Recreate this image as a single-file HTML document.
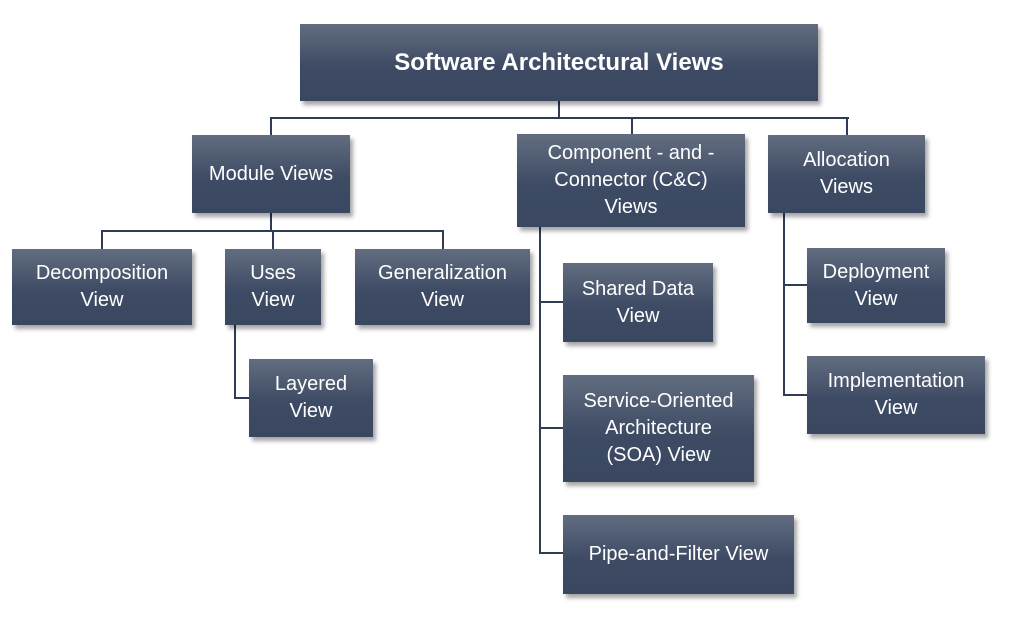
<!DOCTYPE html>
<html><head><meta charset="utf-8"><style>
body{margin:0;width:1010px;height:617px;background:#fff;position:relative;overflow:hidden;font-family:"Liberation Sans",sans-serif}
.b{position:absolute;box-sizing:border-box;background:linear-gradient(#626d80,#3e4b64 55%,#3a4760);color:#fff;display:flex;align-items:center;justify-content:center;text-align:center;font-size:20px;line-height:27px;box-shadow:3px 4px 4px rgba(0,0,0,0.35)}
.l{position:absolute;background:#2f3c55}
</style></head><body>
<div class="l" style="left:558px;top:101px;width:2px;height:18px"></div>
<div class="l" style="left:270px;top:117px;width:579px;height:2px"></div>
<div class="l" style="left:270px;top:117px;width:2px;height:18px"></div>
<div class="l" style="left:631px;top:117px;width:2px;height:17px"></div>
<div class="l" style="left:846px;top:117px;width:2px;height:18px"></div>
<div class="l" style="left:270px;top:213px;width:2px;height:19px"></div>
<div class="l" style="left:101px;top:230px;width:343px;height:2px"></div>
<div class="l" style="left:101px;top:230px;width:2px;height:19px"></div>
<div class="l" style="left:272px;top:230px;width:2px;height:19px"></div>
<div class="l" style="left:442px;top:230px;width:2px;height:19px"></div>
<div class="l" style="left:234px;top:325px;width:2px;height:74px"></div>
<div class="l" style="left:234px;top:397px;width:16px;height:2px"></div>
<div class="l" style="left:539px;top:227px;width:2px;height:327px"></div>
<div class="l" style="left:539px;top:301px;width:24px;height:2px"></div>
<div class="l" style="left:539px;top:427px;width:24px;height:2px"></div>
<div class="l" style="left:539px;top:552px;width:24px;height:2px"></div>
<div class="l" style="left:783px;top:213px;width:2px;height:183px"></div>
<div class="l" style="left:783px;top:284px;width:24px;height:2px"></div>
<div class="l" style="left:783px;top:394px;width:24px;height:2px"></div>

<div class="b" style="left:300px;top:24px;width:518px;height:77px;font-size:24px;font-weight:bold">Software Architectural Views</div>
<div class="b" style="left:192px;top:135px;width:158px;height:78px">Module Views</div>
<div class="b" style="left:517px;top:134px;width:228px;height:93px">Component - and -<br>Connector (C&amp;C)<br>Views</div>
<div class="b" style="left:768px;top:135px;width:157px;height:78px">Allocation<br>Views</div>
<div class="b" style="left:12px;top:249px;width:180px;height:76px">Decomposition<br>View</div>
<div class="b" style="left:225px;top:249px;width:96px;height:76px">Uses<br>View</div>
<div class="b" style="left:355px;top:249px;width:175px;height:76px">Generalization<br>View</div>
<div class="b" style="left:249px;top:359px;width:124px;height:78px">Layered<br>View</div>
<div class="b" style="left:563px;top:263px;width:150px;height:79px">Shared Data<br>View</div>
<div class="b" style="left:563px;top:375px;width:191px;height:107px">Service-Oriented<br>Architecture<br>(SOA) View</div>
<div class="b" style="left:563px;top:515px;width:231px;height:79px">Pipe-and-Filter View</div>
<div class="b" style="left:807px;top:248px;width:138px;height:75px">Deployment<br>View</div>
<div class="b" style="left:807px;top:356px;width:178px;height:78px">Implementation<br>View</div>
</body></html>
